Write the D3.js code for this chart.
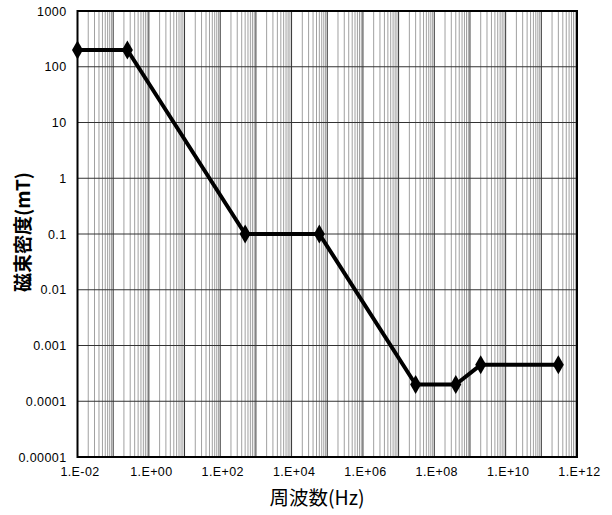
<!DOCTYPE html>
<html lang="ja">
<head>
<meta charset="UTF-8">
<title>磁束密度</title>
<script src="https://d3js.org/d3.v7.min.js"></script>
<style>
    body { margin: 0; background: #fff; }
    svg text { font-family: "Liberation Sans", Arial, sans-serif; fill: #000; }
    .title { font-family: "Noto Sans CJK JP", sans-serif; }
</style>
</head>
<body>
<div id="chart"></div>
<script>
// data
const freq = [0.01, 0.25, 500, 6e4, 3e7, 4e8, 2e9, 3e11];
const fluxDensity = [200, 200, 0.1, 0.1, 0.0002, 0.0002, 0.00045, 0.00045];

const xTicks = [1e-2, 1e0, 1e2, 1e4, 1e6, 1e8, 1e10, 1e12];
const xTickLabels = ["1.E-02", "1.E+00", "1.E+02", "1.E+04", "1.E+06", "1.E+08", "1.E+10", "1.E+12"];
const yTicks = [1e-5, 1e-4, 1e-3, 1e-2, 1e-1, 1, 10, 100, 1000];
const yTickLabels = ["0.00001", "0.0001", "0.001", "0.01", "0.1", "1", "10", "100", "1000"];

const width = 612, height = 515;
const margin = {left: 77.5, right: 35, top: 11, bottom: 58};

const svg = d3.select("#chart").append("svg")
    .attr("width", width)
    .attr("height", height);

const x = d3.scaleLog()
    .domain([1e-2, 1e12])
    .range([margin.left, width - margin.right]);

const y = d3.scaleLog()
    .domain([1e-5, 1e3])
    .range([height - margin.bottom, margin.top]);

// minor vertical grid (2..9 in every decade)
const minor = [];
for (let e = -2; e < 12; e++) {
    for (let k = 2; k <= 9; k++) minor.push(k * Math.pow(10, e));
}
svg.append("g").selectAll("line")
    .data(minor)
    .enter().append("line")
    .attr("x1", d => x(d)).attr("x2", d => x(d))
    .attr("y1", y(1e-5)).attr("y2", y(1e3))
    .attr("stroke", "#a0a0a0")
    .attr("stroke-width", 1);

// major vertical grid
const decadesX = d3.range(-2, 13).map(e => Math.pow(10, e));
svg.append("g").selectAll("line")
    .data(decadesX)
    .enter().append("line")
    .attr("x1", d => x(d)).attr("x2", d => x(d))
    .attr("y1", y(1e-5)).attr("y2", y(1e3))
    .attr("stroke", "#333")
    .attr("stroke-width", 1);

// horizontal grid
svg.append("g").selectAll("line")
    .data(yTicks)
    .enter().append("line")
    .attr("x1", x(1e-2)).attr("x2", x(1e12))
    .attr("y1", d => y(d)).attr("y2", d => y(d))
    .attr("stroke", "#333")
    .attr("stroke-width", 1);

// frame
svg.append("rect")
    .attr("x", x(1e-2)).attr("y", y(1e3))
    .attr("width", x(1e12) - x(1e-2))
    .attr("height", y(1e-5) - y(1e3))
    .attr("fill", "none")
    .attr("stroke", "#000")
    .attr("stroke-width", 2);

// axes with library, lines hidden
const xAxis = svg.append("g")
    .attr("transform", `translate(0,${y(1e-5)})`)
    .call(d3.axisBottom(x).tickValues(xTicks)
        .tickFormat((d, i) => xTickLabels[i]).tickSize(0).tickPadding(10));
xAxis.select(".domain").remove();
xAxis.selectAll("text").attr("font-size", 12.5)
    .attr("letter-spacing", 0.4)
    .attr("dx", 2)
    .attr("font-family", "Liberation Sans, Arial, sans-serif");

const yAxis = svg.append("g")
    .attr("transform", `translate(${x(1e-2)},0)`)
    .call(d3.axisLeft(y).tickValues(yTicks)
        .tickFormat((d, i) => yTickLabels[i]).tickSize(0).tickPadding(11));
yAxis.select(".domain").remove();
yAxis.selectAll("text").attr("font-size", 12.5)
    .attr("letter-spacing", 0.4)
    .attr("font-family", "Liberation Sans, Arial, sans-serif");

// line + markers
const pts = freq.map((f, i) => [f, fluxDensity[i]]);
svg.append("path")
    .datum(pts)
    .attr("fill", "none")
    .attr("stroke", "#000")
    .attr("stroke-width", 4)
    .attr("stroke-linejoin", "round")
    .attr("d", d3.line().x(d => x(d[0])).y(d => y(d[1])));

svg.append("g").selectAll("path")
    .data(pts)
    .enter().append("path")
    .attr("d", d3.symbol().type(d3.symbolDiamond).size(105))
    .attr("transform", d => `translate(${x(d[0])},${y(d[1])})`)
    .attr("fill", "#000");

// axis titles
svg.append("text")
    .attr("class", "title")
    .attr("x", 317).attr("y", 505)
    .attr("text-anchor", "middle")
    .attr("font-size", 19.5)
    .text("周波数(Hz)");

svg.append("text")
    .attr("class", "title")
    .attr("transform", "translate(30,232) rotate(-90)")
    .attr("text-anchor", "middle")
    .attr("font-size", 19)
    .attr("font-weight", "bold")
    .text("磁束密度(mT)");
</script>
</body>
</html>
